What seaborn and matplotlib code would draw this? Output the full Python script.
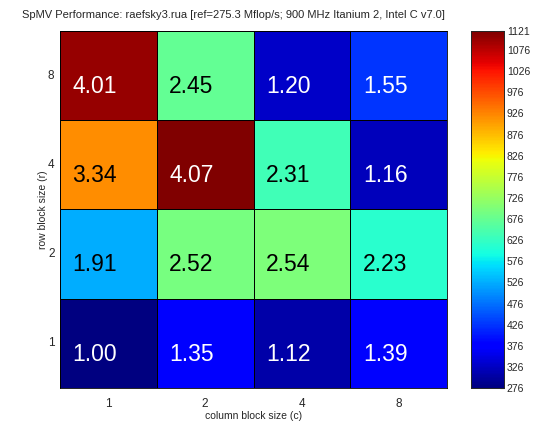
import numpy as np
import pandas as pd
import matplotlib
matplotlib.use("Agg")
import matplotlib.pyplot as plt
import seaborn as sns

# SpMV register-blocking speedups (relative to 1x1 reference)
ref_mflops = 275.3
row_sizes = ["8", "4", "2", "1"]
col_sizes = ["1", "2", "4", "8"]
speedup_8 = [4.01, 2.45, 1.20, 1.55]
speedup_4 = [3.34, 4.07, 2.31, 1.16]
speedup_2 = [1.91, 2.52, 2.54, 2.23]
speedup_1 = [1.00, 1.35, 1.12, 1.39]
cbar_ticks = [276, 326, 376, 426, 476, 526, 576, 626, 676, 726, 776,
              826, 876, 926, 976, 1026, 1076, 1121]

speedup = pd.DataFrame([speedup_8, speedup_4, speedup_2, speedup_1],
                       index=row_sizes, columns=col_sizes)
mflops = speedup * ref_mflops

sns.set_style("white")
plt.rcParams['font.family'] = ['Liberation Sans', 'DejaVu Sans']

fig = plt.figure(figsize=(5.45, 4.22), dpi=100)
ax = fig.add_axes([60 / 545, 1 - 388 / 422, 387 / 545, 357 / 422])
cax = fig.add_axes([471 / 545, 1 - 388 / 422, 33 / 545, 357 / 422])

sns.heatmap(mflops, ax=ax, cbar_ax=cax, cmap="jet",
            vmin=cbar_ticks[0], vmax=cbar_ticks[-1],
            linewidths=0.5, linecolor="black", annot=False,
            cbar_kws={"ticks": cbar_ticks})

for i in range(len(row_sizes)):
    for j in range(len(col_sizes)):
        v = speedup.iloc[i, j]
        color = "white" if (v < 1.7 or v > 3.6) else "black"
        ax.text(j + 0.13, i + 0.62, f"{v:.2f}", ha="left", va="center",
                fontsize=16.5, color=color)

for side in ["left", "bottom", "top", "right"]:
    ax.spines[side].set_visible(True)
    ax.spines[side].set_color("black")
    ax.spines[side].set_linewidth(0.6)

ax.set_xlabel("column block size (c)", fontsize=7.5, labelpad=1)
ax.set_ylabel("row block size (r)", fontsize=7.5, labelpad=0)
ax.tick_params(axis="both", labelsize=8.5, length=0)
ax.tick_params(axis="y", pad=4)
ax.tick_params(axis="x", pad=7)
ax.set_yticklabels(row_sizes, rotation=0)
ax.set_title("SpMV Performance: raefsky3.rua [ref=275.3 Mflop/s; 900 MHz Itanium 2, Intel C v7.0]",
             fontsize=8, loc="left", x=-0.098, pad=9)

cax.set_yticklabels([str(t) for t in cbar_ticks])
cax.tick_params(labelsize=7.5, length=3, direction="in", pad=2)
for s in cax.spines.values():
    s.set_visible(True)
    s.set_linewidth(0.6)

fig.savefig("out.png", dpi=100)
